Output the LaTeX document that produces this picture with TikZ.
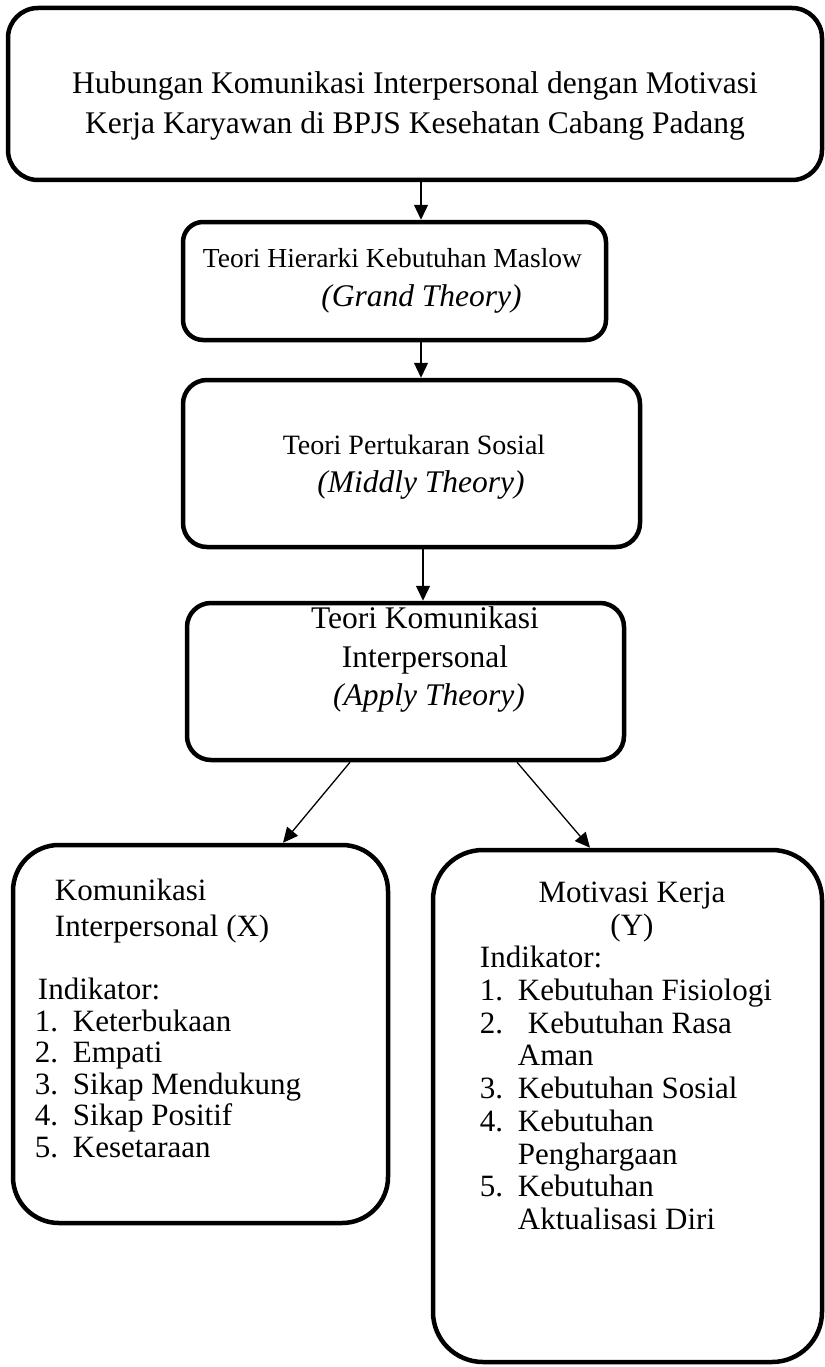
\documentclass[tikz,border=0pt]{standalone}
\usepackage{fontspec}
\setmainfont{Liberation Serif}
\usetikzlibrary{positioning,arrows.meta}

\begin{document}
\begin{tikzpicture}[x=1pt,y=-1pt,
  box/.style={draw,line width=4.5pt,rounded corners=#1,inner sep=0pt},
  box/.default=24pt,
  txt/.style={inner sep=0pt,align=center,font=\fontsize{31.5}{39}\selectfont},
  lst/.style={inner sep=0pt,align=left,anchor=north west},
  arr/.style={-{Triangle[length=15pt,width=14pt]},line width=1.3pt}]
\useasboundingbox (0,0) rectangle (824,1367);
\node[box=30pt,minimum width=814pt,minimum height=172pt] (judul) at (415,94) {};
\node[box=20pt,minimum width=423pt,minimum height=118pt] (grand) at (394.5,281) {};
\node[box,minimum width=457pt,minimum height=167pt] (middle) at (411.5,463.5) {};
\node[box,minimum width=437pt,minimum height=157pt] (apply) at (405.5,681.5) {};
\node[box=46pt,minimum width=375pt,minimum height=378pt] (varx) at (200.5,1034) {};
\node[box=50pt,minimum width=389pt,minimum height=512pt] (vary) at (627.5,1106) {};
\node[txt,font=\fontsize{31.5}{40}\selectfont] (judultxt) at ([yshift=-12pt]judul.center)
  {Hubungan Komunikasi Interpersonal dengan Motivasi\\Kerja Karyawan di BPJS Kesehatan Cabang Padang};
\node[txt] (grandtxt) at ([xshift=-2pt]grand.center)
  {{\fontsize{27.5}{39}\selectfont Teori Hierarki Kebutuhan Maslow}\\\hspace*{58pt}\textit{(Grand Theory)}};
\node[txt,font=\fontsize{31.5}{38}\selectfont] (middletxt) at ([xshift=2.5pt,yshift=-3.5pt]middle.center)
  {{\fontsize{28}{38}\selectfont Teori Pertukaran Sosial}\\\hspace*{14pt}\textit{(Middly Theory)}};
\node[txt,font=\fontsize{31.5}{38.5}\selectfont,anchor=north] (applytxt) at ([xshift=19.5pt,yshift=-6pt]apply.north)
  {Teori Komunikasi\\Interpersonal\\\hspace*{8pt}\textit{(Apply Theory)}};
\node[lst,font=\fontsize{31}{31.5}\selectfont] (varxtxt) at ([xshift=24pt,yshift=-36pt]varx.north west)
  {\hspace*{20pt}Komunikasi\\[5pt]
   \hspace*{20pt}Interpersonal (X)\\[31.5pt]
   \hspace*{3pt}Indikator:\\
   \makebox[38pt][l]{1.}Keterbukaan\\
   \makebox[38pt][l]{2.}Empati\\
   \makebox[38pt][l]{3.}Sikap Mendukung\\
   \makebox[38pt][l]{4.}Sikap Positif\\
   \makebox[38pt][l]{5.}Kesetaraan};
\node[lst,font=\fontsize{31}{32.7}\selectfont] (varytxt) at ([xshift=49pt,yshift=-34pt]vary.north west)
  {\makebox[304pt]{Motivasi Kerja}\\
   \makebox[304pt]{(Y)}\\
   Indikator:\\
   \makebox[38pt][l]{1.}Kebutuhan Fisiologi\\
   \makebox[38pt][l]{2.}\hspace{10pt}Kebutuhan Rasa\\
   \hspace*{38pt}Aman\\
   \makebox[38pt][l]{3.}Kebutuhan Sosial\\
   \makebox[38pt][l]{4.}Kebutuhan\\
   \hspace*{38pt}Penghargaan\\
   \makebox[38pt][l]{5.}Kebutuhan\\
   \hspace*{38pt}Aktualisasi Diri};
\draw[arr] ([xshift=6pt]judul.south) -- ([xshift=26.5pt]grand.north);
\draw[arr] ([xshift=26.5pt]grand.south) -- ([xshift=9.5pt]middle.north);
\draw[arr] ([xshift=11.5pt]middle.south) -- ([xshift=17.5pt]apply.north);
\draw[arr] ([xshift=-55.5pt]apply.south) -- ([xshift=82.5pt]varx.north);
\draw[arr] ([xshift=111.5pt]apply.south) -- ([xshift=-37.5pt]vary.north);
\end{tikzpicture}
\end{document}
